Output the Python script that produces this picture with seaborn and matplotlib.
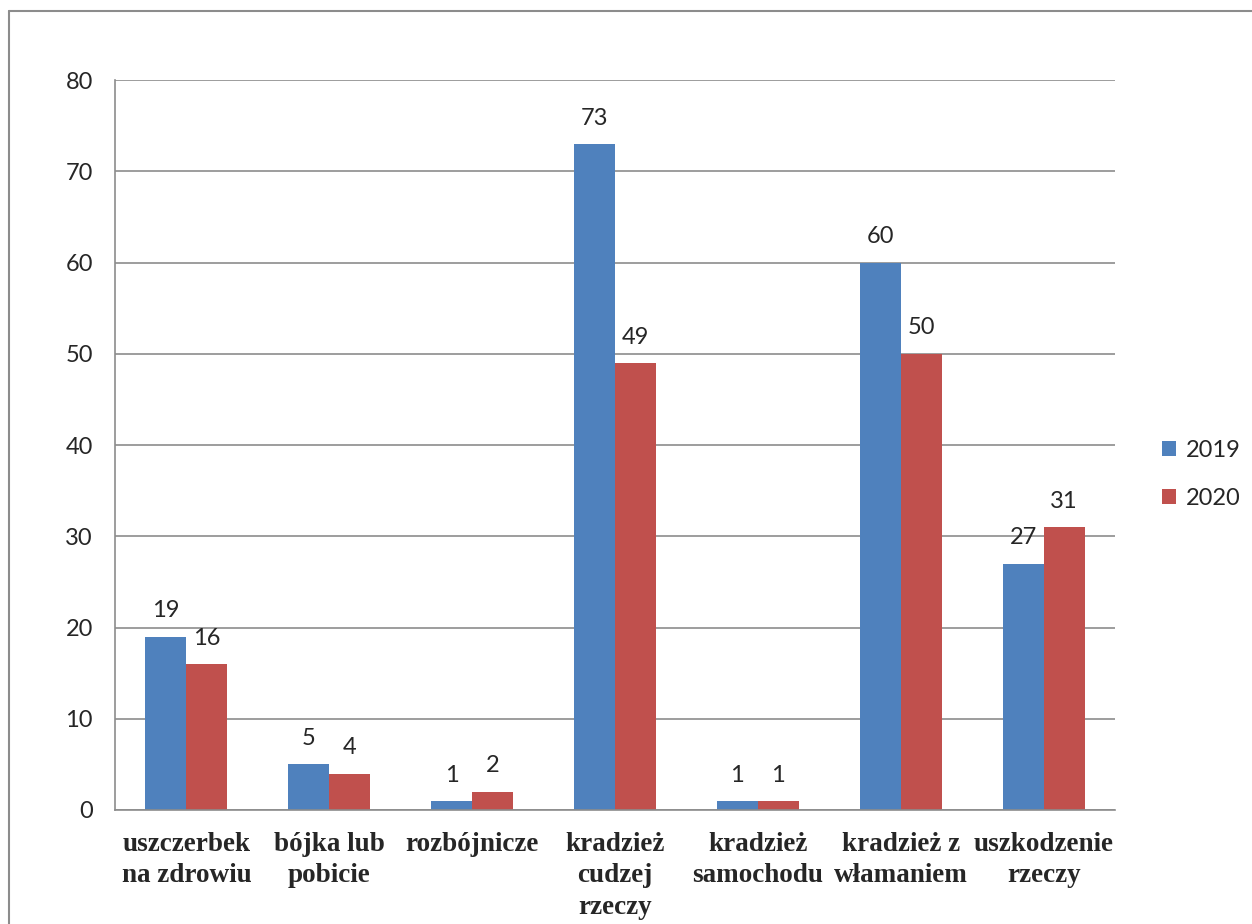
import numpy as np
import pandas as pd
import seaborn as sns
import matplotlib.pyplot as plt
from matplotlib.lines import Line2D

categories = ["uszczerbek\nna zdrowiu", "bójka lub\npobicie", "rozbójnicze",
              "kradzież\ncudzej\nrzeczy", "kradzież\nsamochodu",
              "kradzież z\nwłamaniem", "uszkodzenie\nrzeczy"]
years = ["2019", "2020"]
values_2019 = [19, 5, 1, 73, 1, 60, 27]
values_2020 = [16, 4, 2, 49, 1, 50, 31]
y_ticks = [0, 10, 20, 30, 40, 50, 60, 70, 80]

df = pd.DataFrame({
    "kategoria": categories * 2,
    "rok": ["2019"] * len(categories) + ["2020"] * len(categories),
    "liczba": values_2019 + values_2020,
})

sns.set_style("white")
plt.rcParams["font.family"] = ["Lato", "DejaVu Sans"]

fig = plt.figure(figsize=(12.52, 9.24), dpi=100)
ax = fig.add_axes([115 / 1252, (924 - 810) / 924, 1000 / 1252, 730 / 924])

palette = {"2019": "#4F81BD", "2020": "#C0504D"}
sns.barplot(data=df, x="kategoria", y="liczba", hue="rok", hue_order=years,
            order=categories, palette=palette, width=0.574, gap=0,
            saturation=1, ax=ax, errorbar=None, linewidth=0)

for cont in ax.containers:
    ax.bar_label(cont, padding=11, fontsize=17)

ax.set_xlim(-0.5, len(categories) - 0.5)
ax.set_ylim(0, 80)
ax.set_yticks(y_ticks)
ax.set_yticklabels([str(t) for t in y_ticks], fontsize=17)
ax.yaxis.grid(True, color="#8c8c8c", linewidth=1.2)
ax.set_axisbelow(True)
ax.set_xlabel("")
ax.set_ylabel("")

# ticks on category boundaries
ax.set_xticks(np.arange(len(categories)))
ax.set_xticklabels(categories, fontsize=19.5, fontweight="bold",
                   family="Liberation Serif", linespacing=1.35)
ax.set_xticks(np.arange(len(categories) + 1) - 0.5, minor=True)
ax.tick_params(axis="x", which="major", length=0, pad=15.5)
ax.tick_params(axis="x", which="minor", length=7, color="#8c8c8c", width=1.2)
ax.tick_params(axis="y", length=8, color="#8c8c8c", width=1.2, pad=8)

for s in ["top", "right"]:
    ax.spines[s].set_visible(False)
for s in ["left", "bottom"]:
    ax.spines[s].set_color("#8c8c8c")
    ax.spines[s].set_linewidth(1.2)

leg = ax.legend(loc="center left", bbox_to_anchor=(1.026, 0.46), frameon=False,
                fontsize=17, handlelength=0.6, handleheight=0.6,
                labelspacing=1.15, handletextpad=0.4)

# outer chart frame (left and top edges)
fig.add_artist(Line2D([9 / 1252, 9 / 1252], [0, (924 - 11) / 924],
                      color="#8c8c8c", linewidth=1.5))
fig.add_artist(Line2D([9 / 1252, 1], [(924 - 11) / 924, (924 - 11) / 924],
                      color="#8c8c8c", linewidth=1.5))

fig.savefig("out.png", dpi=100)
